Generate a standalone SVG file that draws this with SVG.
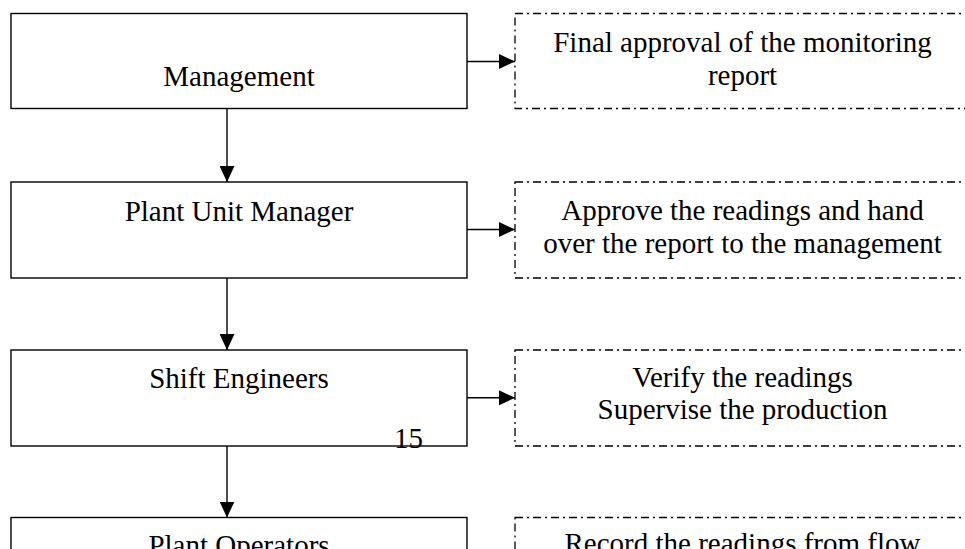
<svg xmlns="http://www.w3.org/2000/svg" width="965" height="549" viewBox="0 0 965 549">
  <style>
    .box { fill: #ffffff; stroke: #000000; stroke-width: 1.4; }
    .note { fill: #ffffff; stroke: #000000; stroke-width: 1.3; stroke-dasharray: 8 4 2 4; }
    .txt { font-family: "Liberation Serif", "Times New Roman", serif; font-size: 29px; fill: #000000; text-anchor: middle; }
    .conn { stroke: #000000; stroke-width: 1.4; fill: none; marker-end: url(#arrow); }
  </style>
  <defs>
    <marker id="arrow" markerUnits="userSpaceOnUse" viewBox="0 0 16 15" refX="16" refY="7.5" markerWidth="16" markerHeight="15" orient="auto">
      <path d="M0,0 L16,7.5 L0,15 Z" fill="#000000"/>
    </marker>
  </defs>

  <g id="node-management">
    <rect class="box" x="11" y="13.5" width="456" height="95"/>
    <text class="txt" x="239" y="86">Management</text>
  </g>
  <g id="node-plant-unit-manager">
    <rect class="box" x="11" y="182" width="456" height="96"/>
    <text class="txt" x="239" y="220.7">Plant Unit Manager</text>
  </g>
  <g id="node-shift-engineers">
    <rect class="box" x="11" y="350" width="456" height="96"/>
    <text class="txt" x="239" y="387.5">Shift Engineers</text>
  </g>
  <g id="node-plant-operators">
    <rect class="box" x="11" y="517.5" width="456" height="96"/>
    <text class="txt" x="239" y="555">Plant Operators</text>
  </g>

  <g id="note-management">
    <rect class="note" x="515" y="13.5" width="460" height="95"/>
    <text class="txt" x="742.5" y="51.7">Final approval of the monitoring</text>
    <text class="txt" x="742.5" y="85.3">report</text>
  </g>
  <g id="note-plant-unit-manager">
    <rect class="note" x="515" y="182" width="460" height="96"/>
    <text class="txt" x="742.5" y="220">Approve the readings and hand</text>
    <text class="txt" x="742.5" y="253.3">over the report to the management</text>
  </g>
  <g id="note-shift-engineers">
    <rect class="note" x="515" y="350" width="460" height="96"/>
    <text class="txt" x="742.5" y="387">Verify the readings</text>
    <text class="txt" x="742.5" y="419.3">Supervise the production</text>
  </g>
  <g id="note-plant-operators">
    <rect class="note" x="515" y="517.5" width="460" height="96"/>
    <text class="txt" x="742.5" y="553">Record the readings from flow</text>
  </g>

  <g id="connectors">
    <line class="conn" x1="227" y1="108.7" x2="227" y2="182"/>
    <line class="conn" x1="227" y1="278" x2="227" y2="350"/>
    <line class="conn" x1="227" y1="446" x2="227" y2="517.5"/>
    <line class="conn" x1="467" y1="61.5" x2="515" y2="61.5"/>
    <line class="conn" x1="467" y1="229.5" x2="515" y2="229.5"/>
    <line class="conn" x1="467" y1="397.8" x2="515" y2="397.8"/>
  </g>

  <text id="page-number" class="txt" x="408.5" y="448">15</text>
</svg>
